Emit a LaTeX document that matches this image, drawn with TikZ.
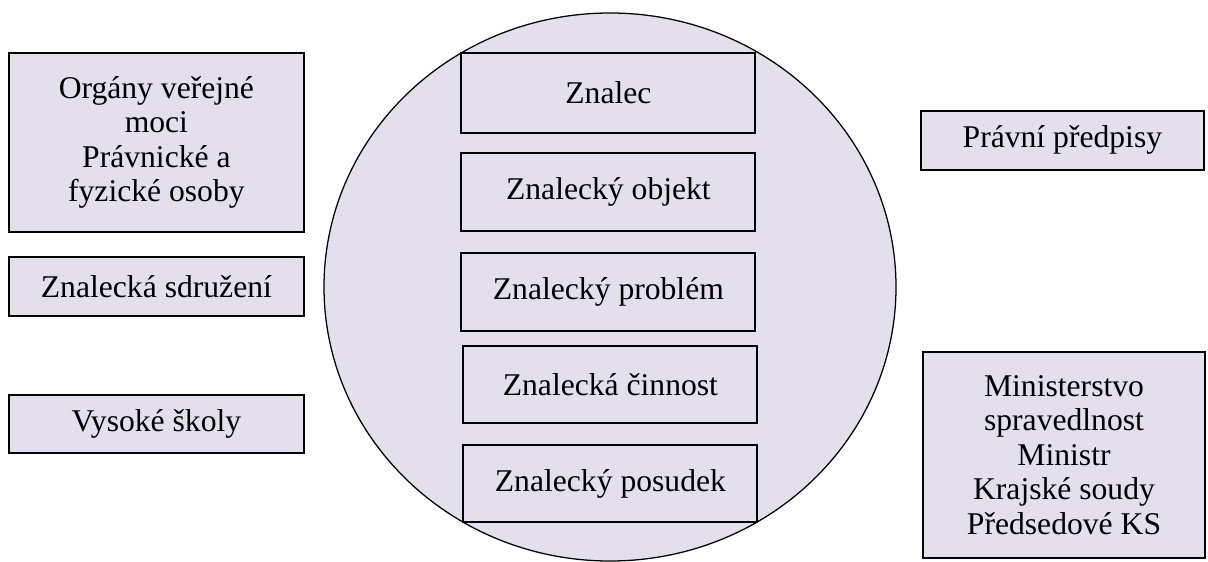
\documentclass[tikz,border=0pt]{standalone}
\usepackage{fontspec}
\setmainfont{Liberation Serif}
\definecolor{lilac}{RGB}{228, 223, 236}
\usepackage{tikz}
\usetikzlibrary{shapes, positioning, calc}

\begin{document}
\begin{tikzpicture}[
  kbox/.style={draw=black, line width=1.3pt, fill=lilac, align=center, inner sep=0pt, font=\fontsize{22.5}{24.6}\selectfont},
  inbox/.style={kbox, minimum width=7.35cm, minimum height=1.95cm}
]
  \useasboundingbox (0, 0) rectangle (30.2, -14.025);
  \begin{scope}
    \clip (0, 0) rectangle (30.2, -14.025);
    \draw[fill=lilac, line width=0.9pt] (15.25, -7.175) ellipse [x radius=7.15cm, y radius=6.85cm];
  \end{scope}

  % inside the circle
  \node[inbox, minimum height=2.0cm] (znalec) at (15.21, -2.325) {Znalec};
  \node[inbox] (objekt)  at (15.21, -4.81)  {Znalecký objekt};
  \node[inbox] (problem) at (15.21, -7.29)  {Znalecký problém};
  \node[inbox, minimum height=1.925cm] (cinnost) at (15.26, -9.61)  {Znalecká činnost};
  \node[inbox, minimum height=1.925cm] (posudek) at (15.26, -12.09) {Znalecký posudek};

  % left side
  \node[kbox, minimum width=7.375cm, minimum height=4.475cm] (organy) at (3.91, -3.56) {Orgány veřejné\\moci\\Právnické a\\fyzické osoby};
  \node[kbox, minimum width=7.375cm, minimum height=1.475cm] (sdruzeni) at (3.91, -7.16) {Znalecká sdružení};
  \node[kbox, minimum width=7.375cm, minimum height=1.45cm]  (skoly)    at (3.91, -10.6) {Vysoké školy};

  % right side
  \node[kbox, minimum width=7.075cm, minimum height=1.475cm] (predpisy) at (26.56, -3.51) {Právní předpisy};
  \node[kbox, minimum width=7.05cm, minimum height=5.15cm] (ministerstvo) at (26.6, -11.375) {Ministerstvo\\spravedlnost\\Ministr\\Krajské soudy\\Předsedové KS};
\end{tikzpicture}
\end{document}
